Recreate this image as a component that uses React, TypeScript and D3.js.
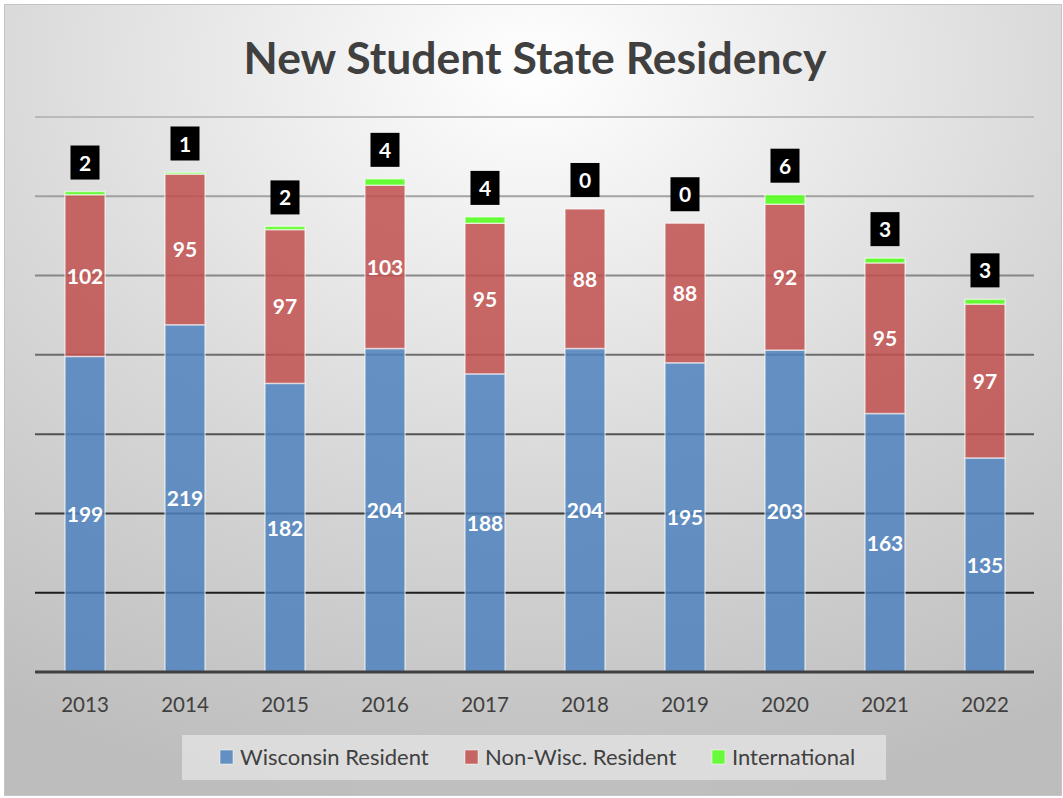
import React from "react";
import * as d3 from "d3";

const years = ["2013", "2014", "2015", "2016", "2017", "2018", "2019", "2020", "2021", "2022"];
const wisconsin = [199, 219, 182, 204, 188, 204, 195, 203, 163, 135];
const nonWisc = [102, 95, 97, 103, 95, 88, 88, 92, 95, 97];
const international = [2, 1, 2, 4, 4, 0, 0, 6, 3, 3];
const seriesNames = ["Wisconsin Resident", "Non-Wisc. Resident", "International"];
const seriesColors = ["#4f81bd", "#c0504d", "#55ff1f"];
const gridTicks = [0, 50, 100, 150, 200, 250, 300, 350];

const W = 1063;
const H = 798;
const FONT = "Lato, 'Open Sans', sans-serif";

export default function App() {
  const x = d3.scaleBand<string>().domain(years).range([35, 1035]).paddingInner(0.6).paddingOuter(0.3);
  const y = d3.scaleLinear().domain([0, 350]).range([672, 117]);

  const rows = years.map((yr, i) => ({ year: yr, w: wisconsin[i], n: nonWisc[i], intl: international[i] }));
  const stack = d3.stack<any>().keys(["w", "n", "intl"])(rows);

  const gridColor = d3.scaleLinear<string>().domain([350, 50]).range(["#b4b4b4", "#000000"]).clamp(true);

  return (
    <div style={{ position: "fixed", left: 0, top: 0 }}>
      <svg width={W} height={H} style={{ display: "block" }}>
        <defs>
          <radialGradient id="bg" cx="50%" cy="8%" r="95%" fx="50%" fy="8%">
            <stop offset="0%" stopColor="#ffffff" />
            <stop offset="55%" stopColor="#d8d8d8" />
            <stop offset="100%" stopColor="#bdbdbd" />
          </radialGradient>
        </defs>
        <rect x={0} y={0} width={W} height={H} fill="#ffffff" />
        <rect x={4.5} y={4.5} width={1057} height={791} fill="url(#bg)" stroke="#c4c4c4" strokeWidth={1} />
        <text x={535} y={74} textAnchor="middle" fontFamily={FONT} fontWeight={700} fontSize={44.5} fill="#404040">
          New Student State Residency
        </text>
        {gridTicks.filter((t) => t > 0).map((t) => (
          <line key={t} x1={35} x2={1034} y1={y(t)} y2={y(t)} stroke={gridColor(t)} strokeWidth={2} opacity={0.85} />
        ))}
        {stack.map((s, si) => (
          <g key={si}>
            {s.map((d, i) => {
              const h = y(d[0]) - y(d[1]);
              if (h <= 0) return null;
              return (
                <rect
                  key={i}
                  x={x(years[i])}
                  y={y(d[1])}
                  width={x.bandwidth()}
                  height={h}
                  fill={seriesColors[si]}
                  fillOpacity={si === 2 ? 0.9 : 0.85}
                  stroke="#ffffff"
                  strokeOpacity={0.55}
                  strokeWidth={1.5}
                />
              );
            })}
          </g>
        ))}
        <line x1={35} x2={1034} y1={y(0)} y2={y(0)} stroke="#404040" strokeWidth={3} />
        {stack.slice(0, 2).map((s, si) =>
          s.map((d, i) => (
            <text
              key={`${si}-${i}`}
              x={(x(years[i]) as number) + x.bandwidth() / 2}
              y={(y(d[0]) + y(d[1])) / 2 + 8}
              textAnchor="middle"
              fontFamily={FONT}
              fontWeight={700}
              fontSize={21}
              fill="#ffffff"
            >
              {d[1] - d[0]}
            </text>
          ))
        )}
        {stack[2].map((d, i) => {
          const cx = (x(years[i]) as number) + x.bandwidth() / 2;
          const top = y(d[1]);
          return (
            <g key={`intl-${i}`}>
              <rect x={cx - 14.5} y={top - 46} width={29} height={34} fill="#000000" />
              <text x={cx} y={top - 21} textAnchor="middle" fontFamily={FONT} fontWeight={700} fontSize={21} fill="#ffffff">
                {international[i]}
              </text>
            </g>
          );
        })}
        {years.map((yr) => (
          <text
            key={yr}
            x={(x(yr) as number) + x.bandwidth() / 2}
            y={712}
            textAnchor="middle"
            fontFamily={FONT}
            fontSize={20.5}
            fill="#404040"
          >
            {yr}
          </text>
        ))}
        <rect x={182} y={735} width={704} height={45} fill="#e0e0e0" fillOpacity={0.85} />
        {[
          { sx: 220, tx: 240 },
          { sx: 465, tx: 485 },
          { sx: 712, tx: 732 },
        ].map((p, i) => (
          <g key={i}>
            <rect x={p.sx} y={750} width={13} height={14} fill={seriesColors[i]} fillOpacity={0.85} stroke="#ffffff" strokeOpacity={0.5} />
            <text x={p.tx} y={765} fontFamily={FONT} fontSize={22} fill="#404040">
              {seriesNames[i]}
            </text>
          </g>
        ))}
      </svg>
    </div>
  );
}
